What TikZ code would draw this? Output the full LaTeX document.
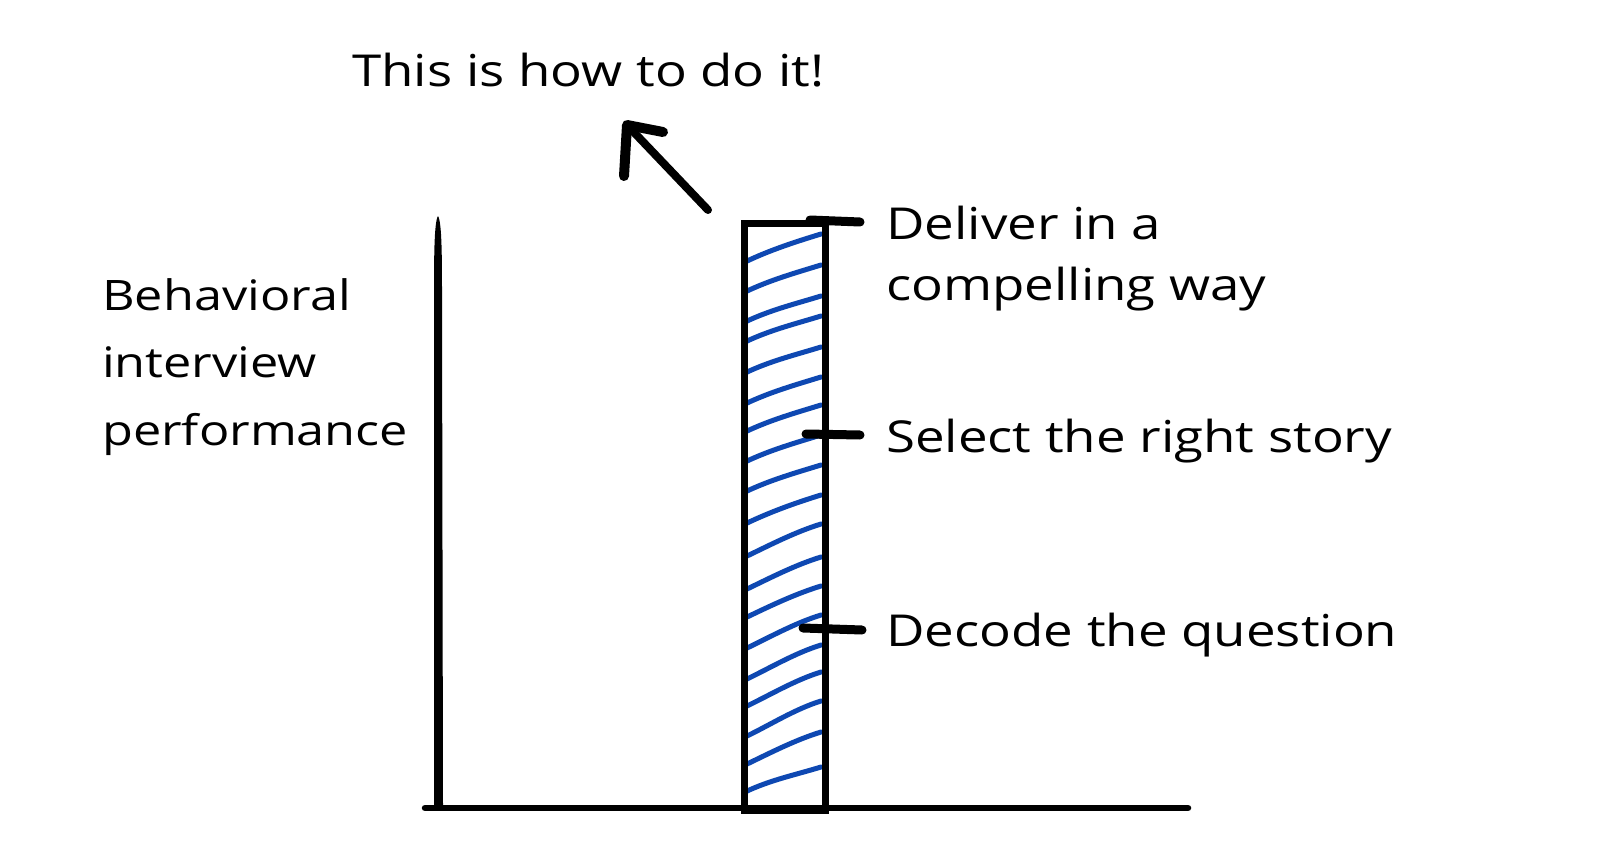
\documentclass[tikz,border=0pt]{standalone}
\usepackage{fontspec}
\setmainfont[FakeStretch=1.2]{Open Sans}
\definecolor{hatch}{RGB}{14,72,178}
\begin{document}
\begin{tikzpicture}[x=1pt,y=-1pt,
  ink/.style={line cap=round,line join=round,black},
  lbl/.style={anchor=base west,inner sep=0pt,font=\fontsize{44}{60}\selectfont},
  lbls/.style={lbl,font=\fontsize{42}{60}\selectfont},
  tick/.style={ink,line width=9pt},
  hline/.style={hatch,line width=5pt,line cap=round}]
\useasboundingbox[fill=white] (0,0) rectangle (1600,861);
% y axis (tapered stroke)
\fill[black] (438,216) .. controls (434,222) and (434,260) .. (434,300)
  -- (434,806) -- (443,806) -- (442,300) .. controls (442,260) and (442,222) .. (438,216) -- cycle;
\coordinate (xa) at (425,808);
\coordinate (xb) at (1188,808);
\draw[ink,line width=6.5pt] (xa) -- (xb);
% hatching
\foreach \yl/\yr in {262/234,292/265,322/296,342/316,373/347,404/377,432/405,
  462/435,492/465,524/495,557/524,590/557,618/586,649/615,680/645,707/672,
  737/701,765/732,792/767}{
  \draw[hline] (745,\yl) .. controls (770,\yl-12) and (795,\yr+8) .. (821,\yr);
}
% bar
\node[draw,line width=6.5pt,minimum width=81pt,minimum height=587pt,inner sep=0pt,anchor=north west] (bar) at (741,220) {};
% labels
\node[lbl] (top) at (352,87) {This is how to do it!};
\node[lbl] (deliver) at (886,240) {Deliver in a};
\node[lbl] (compel) at (886,300) {compelling way};
\node[lbl] (select) at (886,452) {Select the right story};
\node[lbl] (decode) at (886,646) {Decode the question};
\node[lbls] (beh) at (102,310) {Behavioral};
\node[lbls] (int) at (102,377) {interview};
\node[lbls] (perf) at (102,445) {performance};
% ticks
\coordinate (t1) at (810,220);
\coordinate (t1e) at (860,222);
\coordinate (t2) at (806,434);
\coordinate (t2e) at (860,435);
\coordinate (t3) at (803,628);
\coordinate (t3e) at (862,630);
\draw[tick] (t1) -- (t1e);
\draw[tick] (t2) -- (t2e);
\draw[tick] (t3) -- (t3e);
% arrow
\coordinate (atail) at (708,210);
\coordinate (atip) at (627,125);
\draw[ink,line width=8pt] (atail) -- (atip);
\draw[ink,line width=10pt] (663,132) -- (atip) -- (624,176);
\end{tikzpicture}
\end{document}
